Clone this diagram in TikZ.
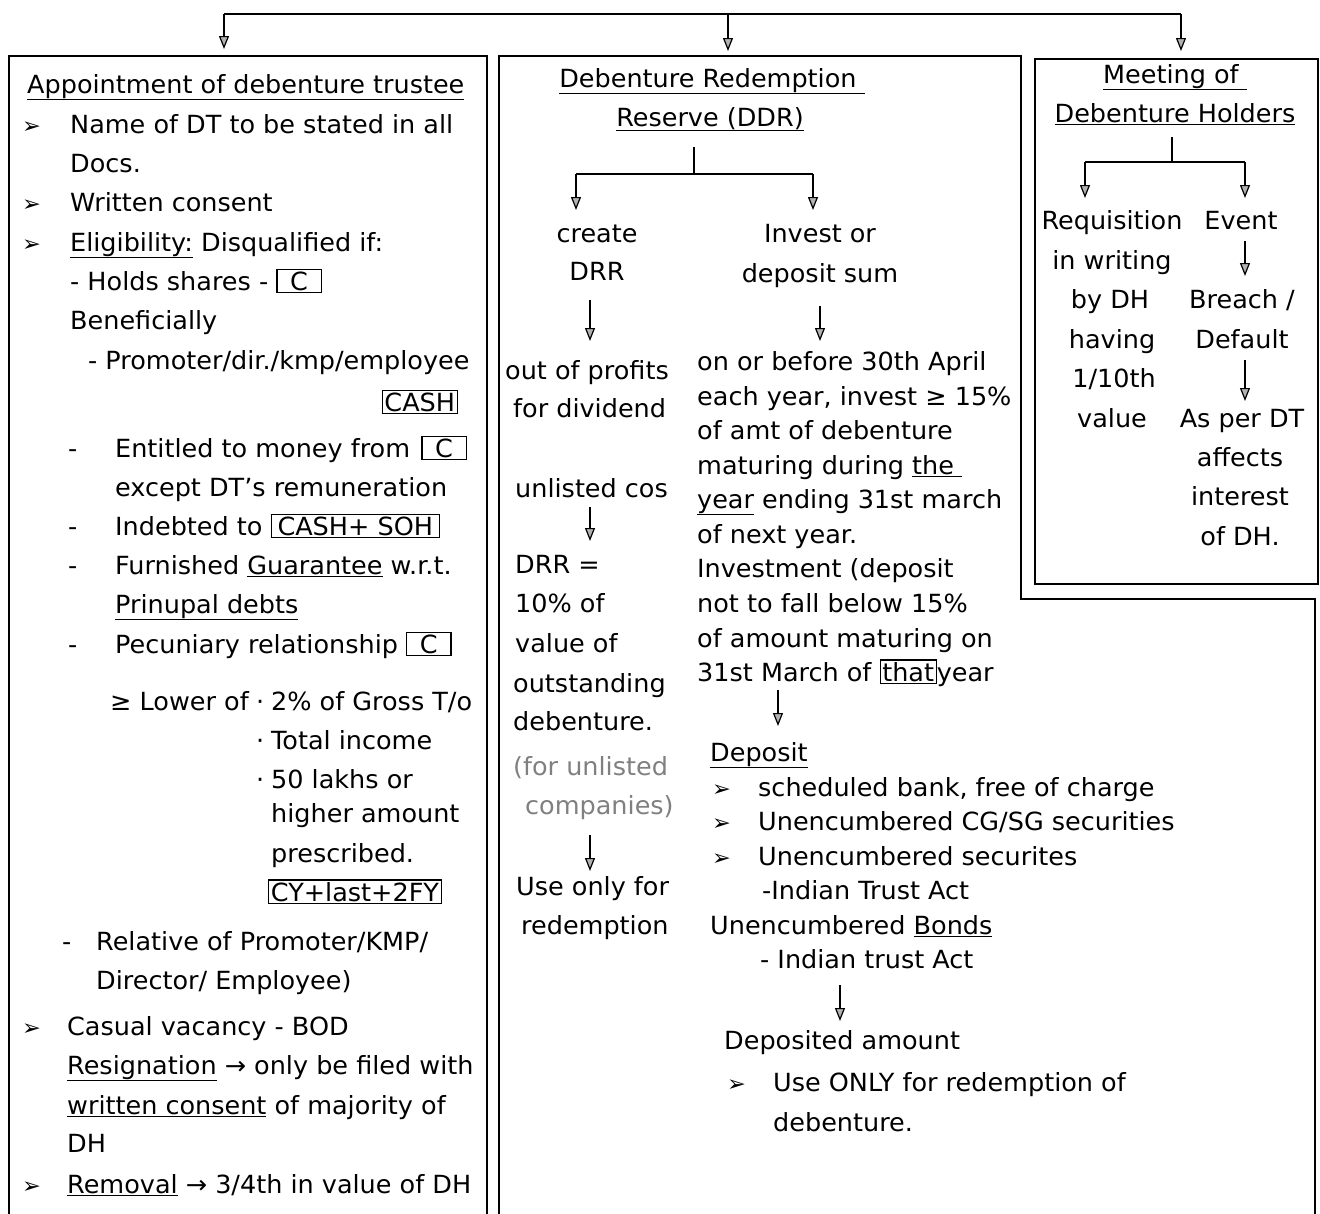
\documentclass[tikz,border=0pt]{standalone}
\usepackage{fontspec}
\setmainfont[FakeStretch=1.02]{DejaVu Sans}
\usetikzlibrary{arrows.meta}
\setlength{\fboxsep}{1.5pt}
\setlength{\fboxrule}{1.2pt}
\newcommand{\myfs}{\fontsize{25}{29}\selectfont}
\newcommand{\bx}[1]{\fbox{#1}}
\newcommand{\myul}[1]{\underline{#1}}
\begin{document}
\begin{tikzpicture}[x=1pt,y=-1pt,
  t/.style={anchor=base west,inner sep=0pt,font=\myfs},
  tc/.style={anchor=base,inner sep=0pt,font=\myfs},
  bul/.style={anchor=base west,inner sep=0pt,font=\fontsize{22}{24}\selectfont},
  arr/.style={-{Triangle[length=13pt,width=10pt,fill=gray!60]},line width=1.2pt},
  ln/.style={line width=1.2pt},
  boxline/.style={line width=1.8pt}]
\useasboundingbox (0,0) rectangle (1320,1213);
\clip (0,0) rectangle (1320,1213);
% ---------- frames ----------
\node[boxline,draw,anchor=north west,minimum width=478pt,minimum height=1180pt,inner sep=0pt] (boxL) at (8,55) {};
\node[boxline,draw,anchor=north west,minimum width=283pt,minimum height=525pt,inner sep=0pt] (boxR) at (1034,58) {};
\coordinate (mA) at (499,1240);
\coordinate (mB) at (499,56);
\coordinate (mC) at (1021,56);
\coordinate (mD) at (1021,599);
\coordinate (mE) at (1315,599);
\coordinate (mF) at (1315,1240);
\draw[boxline] (mA) -- (mB) -- (mC) -- (mD) -- (mE) -- (mF);
% ---------- top connector ----------
\coordinate (t1) at (224,14);
\coordinate (t2) at (728,14);
\coordinate (t3) at (1181,14);
\coordinate (a1) at (224,49);
\coordinate (a2) at (728,51);
\coordinate (a3) at (1181,51);
\draw[ln] (t1) -- (t3);
\draw[arr] (t1) -- (a1);
\draw[arr] (t2) -- (a2);
\draw[arr] (t3) -- (a3);
% ---------- left box ----------
\node[t] (Ltitle) at (27,93) {\myul{Appointment of debenture trustee}};
\node[bul] (Lb1) at (22,133) {➢};
\node[t] (L1) at (70,133) {Name of DT to be stated in all};
\node[t] (L2) at (70,172) {Docs.};
\node[bul] (Lb2) at (22,211) {➢};
\node[t] (L3) at (70,211) {Written consent};
\node[bul] (Lb3) at (22,251) {➢};
\node[t] (L4) at (70,251) {\myul{Eligibility:} Disqualified if:};
\node[t] (L5) at (70,290) {- Holds shares - \bx{\;\,C\;\,}};
\node[t] (L6) at (70,329) {Beneficially};
\node[t] (L7) at (88,369) {- Promoter/dir./kmp/employee};
\node[t,anchor=base east] (L8) at (458,411) {\bx{CASH}};
\node[t] (Ld1) at (68,457) {-};
\node[t] (L9) at (115,457) {Entitled to money from};
\node[t,anchor=base east] (L9b) at (467,457) {\bx{\;\,C\;\,}};
\node[t] (L10) at (115,496) {except DT's remuneration};
\node[t] (Ld2) at (68,535) {-};
\node[t] (L11) at (115,535) {Indebted to \bx{\,CASH+ SOH\,}};
\node[t] (Ld3) at (68,574) {-};
\node[t] (L12) at (115,574) {Furnished \myul{Guarantee} w.r.t.};
\node[t] (L13) at (115,613) {\myul{Prinupal debts}};
\node[t] (Ld4) at (68,653) {-};
\node[t] (L14) at (115,653) {Pecuniary relationship \bx{\;\,C\;\,}};
\node[t] (L15) at (110,710) {≥ Lower of};
\node[t] (Lp1) at (256,710) {·};
\node[t] (L16) at (271,710) {2\% of Gross T/o};
\node[t] (Lp2) at (256,749) {·};
\node[t] (L17) at (271,749) {Total income};
\node[t] (Lp3) at (256,788) {·};
\node[t] (L18) at (271,788) {50 lakhs or};
\node[t] (L19) at (271,822) {higher amount};
\node[t] (L20) at (271,862) {prescribed.};
\node[t] (L21) at (268,901) {\bx{CY+last+2FY}};
\node[t] (Ld5) at (62,950) {-};
\node[t] (L22) at (96,950) {Relative of Promoter/KMP/};
\node[t] (L23) at (96,989) {Director/ Employee)};
\node[bul] (Lb4) at (22,1035) {➢};
\node[t] (L24) at (67,1035) {Casual vacancy - BOD};
\node[t] (L25) at (67,1074) {\myul{Resignation} → only be filed with};
\node[t] (L26) at (67,1114) {\myul{written consent} of majority of};
\node[t] (L27) at (67,1152) {DH};
\node[bul] (Lb5) at (22,1193) {➢};
\node[t] (L28) at (67,1193) {\myul{Removal} → 3/4th in value of DH};
% ---------- middle box ----------
\node[tc] (Mt1) at (712,87) {\myul{Debenture Redemption\ }};
\node[tc] (Mt2) at (710,126) {\myul{Reserve (DDR)}};
\coordinate (ms1) at (694,147);
\coordinate (ms2) at (694,174);
\coordinate (msL) at (576,174);
\coordinate (msR) at (813,174);
\coordinate (maL) at (576,210);
\coordinate (maR) at (813,210);
\draw[ln] (ms1) -- (ms2);
\draw[ln] (msL) -- (msR);
\draw[arr] (msL) -- (maL);
\draw[arr] (msR) -- (maR);
\node[tc] (Mc1) at (597,242) {create};
\node[tc] (Mc2) at (597,280) {DRR};
\node[tc] (Mi1) at (820,242) {Invest or};
\node[tc] (Mi2) at (820,282) {deposit sum};
\coordinate (mc3) at (590,300);
\coordinate (mc4) at (590,341);
\coordinate (mi3) at (820,306);
\coordinate (mi4) at (820,341);
\draw[arr] (mc3) -- (mc4);
\draw[arr] (mi3) -- (mi4);
% left column
\node[t] (ML1) at (505,379) {out of profits};
\node[t] (ML2) at (513,417) {for dividend};
\node[t] (ML3) at (515,497) {unlisted cos};
\coordinate (ml3a) at (590,507);
\coordinate (ml3b) at (590,541);
\draw[arr] (ml3a) -- (ml3b);
\node[t] (ML4) at (515,573) {DRR =};
\node[t] (ML5) at (515,612) {10\% of};
\node[t] (ML6) at (515,652) {value of};
\node[t] (ML7) at (513,692) {outstanding};
\node[t] (ML8) at (513,730) {debenture.};
\node[t,text=gray] (ML9) at (513,775) {(for unlisted};
\node[t,text=gray] (ML10) at (525,814) {companies)};
\coordinate (ml10a) at (590,835);
\coordinate (ml10b) at (590,871);
\draw[arr] (ml10a) -- (ml10b);
\node[t] (ML11) at (516,895) {Use only for};
\node[t] (ML12) at (521,934) {redemption};
% right column
\node[t] (MR1) at (697,370) {on or before 30th April};
\node[t] (MR2) at (697,405) {each year, invest ≥ 15\%};
\node[t] (MR3) at (697,439) {of amt of debenture};
\node[t] (MR4) at (697,474) {maturing during \myul{the\ }};
\node[t] (MR5) at (697,508) {\myul{year} ending 31st march};
\node[t] (MR6) at (697,543) {of next year.};
\node[t] (MR7) at (697,577) {Investment (deposit};
\node[t] (MR8) at (697,612) {not to fall below 15\%};
\node[t] (MR9) at (697,647) {of amount maturing on};
\node[t] (MR10) at (697,681) {31st March of \bx{that}year};
\coordinate (mr10a) at (778,690);
\coordinate (mr10b) at (778,726);
\draw[arr] (mr10a) -- (mr10b);
\node[t] (MD0) at (710,761) {\myul{Deposit}};
\node[bul] (MDb1) at (712,796) {➢};
\node[t] (MD1) at (758,796) {scheduled bank, free of charge};
\node[bul] (MDb2) at (712,830) {➢};
\node[t] (MD2) at (758,830) {Unencumbered CG/SG securities};
\node[bul] (MDb3) at (712,865) {➢};
\node[t] (MD3) at (758,865) {Unencumbered securites};
\node[t] (MD4) at (762,899) {-Indian Trust Act};
\node[t] (MD5) at (710,934) {Unencumbered \myul{Bonds}};
\node[t] (MD6) at (760,968) {- Indian trust Act};
\coordinate (md6a) at (840,985);
\coordinate (md6b) at (840,1021);
\draw[arr] (md6a) -- (md6b);
\node[t] (MD7) at (724,1049) {Deposited amount};
\node[bul] (MDb4) at (727,1091) {➢};
\node[t] (MD8) at (773,1091) {Use ONLY for redemption of};
\node[t] (MD9) at (773,1131) {debenture.};
% ---------- right box ----------
\node[tc] (Rt1) at (1175,83) {\myul{Meeting of\ }};
\node[tc] (Rt2) at (1175,122) {\myul{Debenture Holders}};
\coordinate (rs1) at (1172,137);
\coordinate (rs2) at (1172,162);
\coordinate (rsL) at (1085,162);
\coordinate (rsR) at (1245,162);
\coordinate (raL) at (1085,198);
\coordinate (raR) at (1245,198);
\draw[ln] (rs1) -- (rs2);
\draw[ln] (rsL) -- (rsR);
\draw[arr] (rsL) -- (raL);
\draw[arr] (rsR) -- (raR);
\node[tc] (RL1) at (1112,229) {Requisition};
\node[tc] (RL2) at (1112,269) {in writing};
\node[tc] (RL3) at (1110,308) {by DH};
\node[tc] (RL4) at (1112,348) {having};
\node[tc] (RL5) at (1114,387) {1/10th};
\node[tc] (RL6) at (1112,427) {value};
\node[tc] (RR1) at (1241,229) {Event};
\coordinate (rr1a) at (1245,241);
\coordinate (rr1b) at (1245,276);
\draw[arr] (rr1a) -- (rr1b);
\node[tc] (RR2) at (1242,308) {Breach /};
\node[tc] (RR3) at (1242,348) {Default};
\coordinate (rr3a) at (1245,360);
\coordinate (rr3b) at (1245,401);
\draw[arr] (rr3a) -- (rr3b);
\node[tc] (RR4) at (1242,427) {As per DT};
\node[tc] (RR5) at (1240,466) {affects};
\node[tc] (RR6) at (1240,505) {interest};
\node[tc] (RR7) at (1240,545) {of DH.};
\end{tikzpicture}
\end{document}
